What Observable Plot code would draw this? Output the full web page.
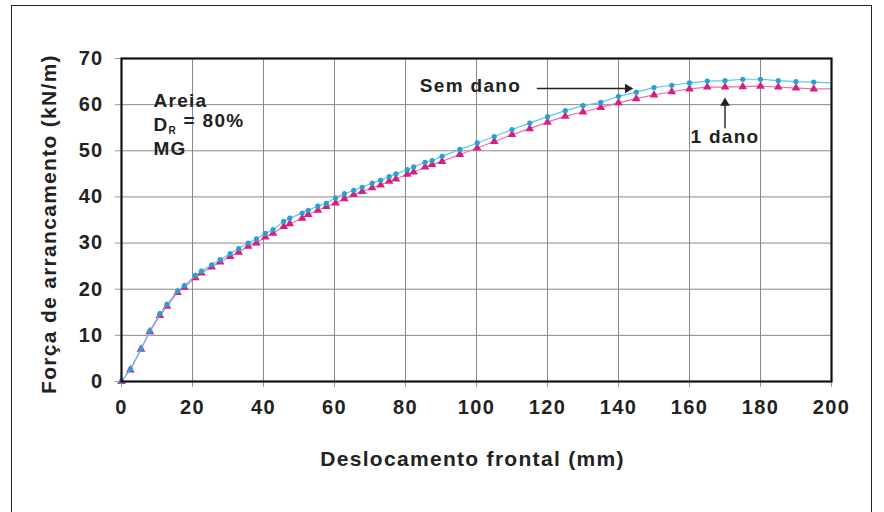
<!DOCTYPE html>
<html>
<head>
<meta charset="utf-8">
<script src="https://cdn.jsdelivr.net/npm/d3@7"></script>
<script src="https://cdn.jsdelivr.net/npm/@observablehq/plot@0.6"></script>
<style>
  html, body { margin: 0; padding: 0; background: #fff; }
  #wrap { position: relative; width: 884px; height: 512px; overflow: hidden; }
  #border { position: absolute; left: 11px; top: 5px; width: 861px; height: 520px; border: 1px solid #222; box-sizing: border-box; pointer-events: none; }
  #chart { position: absolute; left: 0; top: 0; }
  #chart svg text { letter-spacing: 1.3px; }
</style>
</head>
<body>
<div id="wrap"><div id="border"></div><div id="chart"></div></div>
<script>
// Frontal displacement (mm)
const deslocamento = [0, 2.5, 5.5, 8, 10.8, 12.8, 15.8, 17.7, 20.8, 22.5, 25.4, 27.8, 30.6, 33, 35.7, 38, 40.5, 42.7,
  45.7, 47.4, 50.9, 52.6, 55.3, 57.7, 60.3, 62.8, 65.4, 67.8, 70.6, 73, 75.4, 77.3, 80.5, 82.3, 85.5, 87.5, 90.3,
  95.3, 100.2, 105, 110, 115, 120, 125, 130, 135, 140, 145, 150, 155, 160, 165, 170, 175, 180, 185, 190, 195, 200];

// Pull-out force (kN/m), undamaged specimen
const semDano = [0, 2.7, 7.1, 11.0, 14.7, 16.7, 19.6, 20.8, 23.0, 23.9, 25.3, 26.4, 27.7, 28.8, 30.0, 30.9, 32.1, 32.9,
  34.7, 35.4, 36.5, 37.1, 38.0, 38.6, 39.8, 40.7, 41.4, 42.1, 43.0, 43.6, 44.4, 45.0, 45.9, 46.5, 47.5, 47.9, 48.8,
  50.3, 51.7, 53.1, 54.6, 56.0, 57.4, 58.7, 59.8, 60.5, 61.8, 62.7, 63.7, 64.2, 64.7, 65.1, 65.2, 65.5, 65.5, 65.2, 65.0, 64.9, 64.7];

// Pull-out force (kN/m), specimen with 1 damage
const umDano = [0, 2.5, 7.0, 10.8, 14.3, 16.3, 19.3, 20.4, 22.5, 23.5, 24.8, 25.9, 27.1, 28.0, 29.3, 30.0, 31.3, 32.1,
  33.6, 34.2, 35.4, 36.2, 37.1, 37.9, 38.7, 39.6, 40.5, 41.2, 42.0, 42.6, 43.4, 43.9, 44.9, 45.4, 46.5, 47.0, 47.7,
  49.2, 50.6, 52.0, 53.5, 54.8, 56.2, 57.5, 58.4, 59.4, 60.4, 61.3, 62.1, 62.8, 63.4, 63.8, 63.8, 63.9, 64.0, 63.8, 63.6, 63.4, 63.4];

const xTicks = [0, 20, 40, 60, 80, 100, 120, 140, 160, 180, 200];
const yTicks = [0, 10, 20, 30, 40, 50, 60, 70];

// Annotation texts, arrow shafts and filled arrowheads
const notes = [
  {x: 9, y: 60.9, text: "Areia"},
  {x: 9, y: 55.7, text: "DR = 80%"},
  {x: 9, y: 50.5, text: "MG"}
];
const labels = [
  {x: 98.3, y: 64.0, text: "Sem dano"},
  {x: 170, y: 53.0, text: "1 dano"}
];
const shafts = [
  {x1: 117, y1: 63.5, x2: 142.5, y2: 63.5},
  {x1: 170, y1: 54.9, x2: 170, y2: 60.2}
];
const heads = [
  {x: 142.6, y: 63.5, angle: 90},
  {x: 170, y: 60.35, angle: 0}
];

const rowsSem = deslocamento.map((d, i) => ({d, f: semDano[i]}));
const rowsUm = deslocamento.map((d, i) => ({d, f: umDano[i]}));
const markSem = rowsSem.filter(r => r.d < 200);
const markUm = rowsUm.filter(r => r.d < 200);

const font = "'Liberation Sans', Arial, sans-serif";

const chart = Plot.plot({
  width: 884,
  height: 512,
  marginLeft: 121,
  marginRight: 53,
  marginTop: 58,
  marginBottom: 131,
  style: {fontFamily: font, fontWeight: "bold", fontSize: "20px", color: "#222", background: "transparent"},
  x: {domain: [0, 200]},
  y: {domain: [0, 70]},
  marks: [
    Plot.gridX(xTicks, {stroke: "#8a8a8a", strokeOpacity: 1, strokeWidth: 1}),
    Plot.gridY(yTicks, {stroke: "#8a8a8a", strokeOpacity: 1, strokeWidth: 1}),
    Plot.axisX(xTicks, {tickSize: 6, tickPadding: 12, stroke: "#999", fontSize: 20, fontWeight: "bold", fill: "#222", label: null}),
    Plot.axisY(yTicks, {tickSize: 6, tickPadding: 12, stroke: "#999", fontSize: 20, fontWeight: "bold", fill: "#222", label: null}),
    Plot.line(rowsUm, {x: "d", y: "f", stroke: "#e872b0", strokeWidth: 1.2}),
    Plot.dot(markUm, {x: "d", y: "f", symbol: "triangle", r: 3.2, fill: "#d81f7c", stroke: "none"}),
    Plot.line(rowsSem, {x: "d", y: "f", stroke: "#5cc6ea", strokeWidth: 1.2}),
    Plot.dot(markSem, {x: "d", y: "f", r: 2.6, fill: "#2a9ed6", stroke: "none"}),
    Plot.frame({stroke: "#111", strokeWidth: 2.2}),
    Plot.text(notes, {x: "x", y: "y", text: "text", textAnchor: "start", fontSize: 19, fontWeight: "bold", fill: "#222"}),
    Plot.text(labels, {x: "x", y: "y", text: "text", fontSize: 19, fontWeight: "bold", fill: "#222"}),
    Plot.link(shafts, {x1: "x1", y1: "y1", x2: "x2", y2: "y2", stroke: "#222", strokeWidth: 1.4}),
    Plot.dot(heads, {x: "x", y: "y", symbol: "triangle", rotate: "angle", r: 3.6, fill: "#222", stroke: "none"}),
    Plot.text(["Deslocamento frontal (mm)"], {frameAnchor: "bottom", dy: 84, text: d => d, fontSize: 21, fontWeight: "bold", fill: "#222", dx: -4}),
    Plot.text(["Força de arrancamento (kN/m)"], {frameAnchor: "left", dx: -66, dy: 4, rotate: -90, textAnchor: "middle", lineAnchor: "bottom", text: d => d, fontSize: 21, fontWeight: "bold", fill: "#222"})
  ]
});

// Subscript R in the relative density label
d3.select(chart).selectAll("text").each(function () {
  if (this.textContent === "DR = 80%") {
    const t = d3.select(this);
    t.text(null);
    t.append("tspan").text("D");
    t.append("tspan").attr("font-size", 10).attr("dy", "0.35em").text("R");
    t.append("tspan").attr("dy", "-0.35em").text(" = 80%");
  }
});

document.getElementById("chart").appendChild(chart);
</script>
</body>
</html>
